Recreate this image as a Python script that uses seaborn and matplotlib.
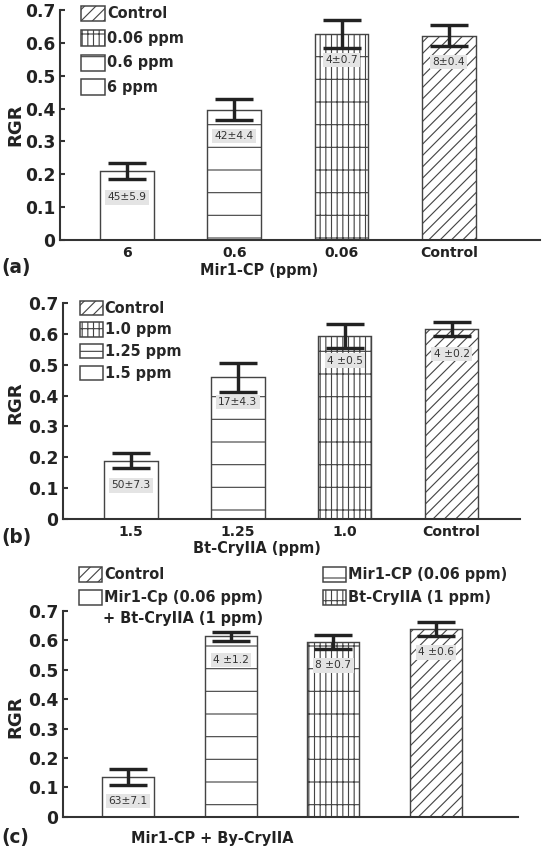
import matplotlib
matplotlib.use('Agg')
import matplotlib.pyplot as plt
from matplotlib.patches import Patch
import seaborn as sns
import pandas as pd

# panel (a): Mir1-CP doses
mir_cats = ['6', '0.6', '0.06', 'Control']
mir_rgr = [0.21, 0.396, 0.628, 0.622]
mir_err = [0.024, 0.032, 0.043, 0.031]
mir_notes = ['45±5.9', '42±4.4', '4±0.7', '8±0.4']
mir_legend = ['Control', '0.06 ppm', '0.6 ppm', '6 ppm']

# panel (b): Bt-CryIIA doses
bt_cats = ['1.5', '1.25', '1.0', 'Control']
bt_rgr = [0.189, 0.459, 0.593, 0.615]
bt_err = [0.024, 0.046, 0.040, 0.022]
bt_notes = ['50±7.3', '17±4.3', '4 ±0.5', '4 ±0.2']
bt_legend = ['Control', '1.0 ppm', '1.25 ppm', '1.5 ppm']

# panel (c): combination
mix_cats = ['Mir1-CP + Bt-CryIIA', 'Mir1-CP', 'Bt-CryIIA', 'Control']
mix_rgr = [0.134, 0.614, 0.595, 0.639]
mix_err = [0.027, 0.016, 0.025, 0.024]
mix_notes = ['63±7.1', '4 ±1.2', '8 ±0.7', '4 ±0.6']
mix_legend_left = ['Control', 'Mir1-Cp (0.06 ppm)']
mix_legend_right = ['Mir1-CP (0.06 ppm)', 'Bt-CryIIA (1 ppm)']

yticks = [0, 0.1, 0.2, 0.3, 0.4, 0.5, 0.6, 0.7]

# hatch per bar position: empty, horizontal, grid, diagonal
HATCHES = ['', '-', '||||-', '////']
EDGE = '#444444'
AX_COL = '#333333'
TXT = '#222222'

sns.set_style('ticks')
plt.rcParams['font.family'] = ['DejaVu Sans']
plt.rcParams['hatch.linewidth'] = 0.6

W, H = 544, 848
fig = plt.figure(figsize=(W / 136, H / 136), dpi=136)


def fx(px):
    return px / W


def fy(py):
    return 1 - py / H


def draw_panel(ax, cats, rgr, err, notes, xlim, width, show_xticklabels=True):
    df = pd.DataFrame({'dose': cats, 'RGR': rgr})
    sns.barplot(data=df, x='dose', y='RGR', order=cats, color='white',
                saturation=1, edgecolor=EDGE, linewidth=0.75, width=width,
                errorbar=None, ax=ax)
    for bar, h in zip(ax.patches, HATCHES):
        bar.set_hatch(h)
    ax.errorbar(range(len(cats)), rgr, yerr=err, fmt='none', ecolor='#222222',
                elinewidth=1.8, capsize=10, capthick=1.8, zorder=4)
    for i, (v, note) in enumerate(zip(rgr, notes)):
        ax.text(i, v - 0.08, note, ha='center', va='center', fontsize=5.6,
                color='#333333', zorder=5,
                bbox=dict(facecolor='#e4e4e4', edgecolor='none', pad=1.2))
    ax.set_ylim(0, 0.7)
    ax.set_xlim(*xlim)
    ax.set_yticks(yticks)
    ax.set_yticklabels(['0' if t == 0 else f'{t:.1f}' for t in yticks],
                       fontweight='bold')
    if show_xticklabels:
        ax.set_xticklabels(cats, fontweight='bold')
    else:
        ax.set_xticklabels([])
    ax.set_xlabel('')
    ax.set_ylabel('')
    sns.despine(ax=ax)
    for side in ['left', 'bottom']:
        ax.spines[side].set_linewidth(1.1)
        ax.spines[side].set_color(AX_COL)
    ax.tick_params(axis='y', direction='in', length=2.5, width=1.1,
                   color=AX_COL, pad=2.5, labelsize=9, labelcolor=TXT)
    ax.tick_params(axis='x', direction='in', length=5, width=0.8,
                   color=AX_COL, pad=3, labelsize=7.4, labelcolor=TXT)


def legend_handles(hatch_list):
    return [Patch(facecolor='white', edgecolor=EDGE, hatch=h, linewidth=0.8)
            for h in hatch_list]


leg_font = dict(size=7.7, weight='bold')
lab_kw = dict(fontsize=7.7, fontweight='bold', color=TXT)
tag_kw = dict(ha='left', va='center', fontsize=9.8, fontweight='bold', color=TXT)
rgr_kw = dict(rotation=90, ha='center', va='center', fontsize=9.6,
              fontweight='bold', color=TXT)

# ---- (a)
ax_a = fig.add_axes([fx(60), fy(240), fx(480), 230 / H])
draw_panel(ax_a, mir_cats, mir_rgr, mir_err, mir_notes, (-0.624, 3.85), 0.5)
fig.legend(legend_handles(HATCHES[::-1]), mir_legend, loc='upper left',
           bbox_to_anchor=(fx(81), fy(5.5)), frameon=False, borderpad=0,
           borderaxespad=0, handlelength=1.63, handleheight=1.3,
           handletextpad=0.15, labelspacing=0.6, prop=leg_font)
fig.text(fx(259), fy(270), 'Mir1-CP (ppm)', ha='center', va='center', **lab_kw)
fig.text(fx(1), fy(268), '(a)', **tag_kw)
fig.text(fx(15), fy(125), 'RGR', **rgr_kw)

# ---- (b)
ax_b = fig.add_axes([fx(63), fy(519), fx(457), 216 / H])
draw_panel(ax_b, bt_cats, bt_rgr, bt_err, bt_notes, (-0.636, 3.64), 0.5)
fig.legend(legend_handles(HATCHES[::-1]), bt_legend, loc='upper left',
           bbox_to_anchor=(fx(80), fy(300.7)), frameon=False, borderpad=0,
           borderaxespad=0, handlelength=1.55, handleheight=1.13,
           handletextpad=0.15, labelspacing=0.45, prop=leg_font)
fig.text(fx(257), fy(548), 'Bt-CryIIA (ppm)', ha='center', va='center', **lab_kw)
fig.text(fx(1), fy(537), '(b)', **tag_kw)
fig.text(fx(15), fy(403), 'RGR', **rgr_kw)

# ---- (c)
ax_c = fig.add_axes([fx(63), fy(816.7), fx(455), 205.7 / H])
draw_panel(ax_c, mix_cats, mix_rgr, mix_err, mix_notes, (-0.634, 3.80), 0.51,
           show_xticklabels=False)
fig.legend(legend_handles(['////', '']), mix_legend_left, loc='upper left',
           bbox_to_anchor=(fx(79), fy(566.7)), frameon=False, borderpad=0,
           borderaxespad=0, handlelength=1.6, handleheight=1.25,
           handletextpad=0.15, labelspacing=0.5, prop=leg_font)
fig.legend(legend_handles(['-', '||||-']), mix_legend_right, loc='upper left',
           bbox_to_anchor=(fx(323), fy(566.7)), frameon=False, borderpad=0,
           borderaxespad=0, handlelength=1.6, handleheight=1.25,
           handletextpad=0.15, labelspacing=0.5, prop=leg_font)
fig.text(fx(103), fy(619), '+ Bt-CryIIA (1 ppm)', ha='left', va='center',
         **lab_kw)
fig.text(fx(212), fy(838), 'Mir1-CP + By-CryIIA', ha='center', va='center',
         **lab_kw)
fig.text(fx(1), fy(838), '(c)', **tag_kw)
fig.text(fx(15), fy(717), 'RGR', **rgr_kw)

fig.savefig('out.png', dpi=136, facecolor='white')
